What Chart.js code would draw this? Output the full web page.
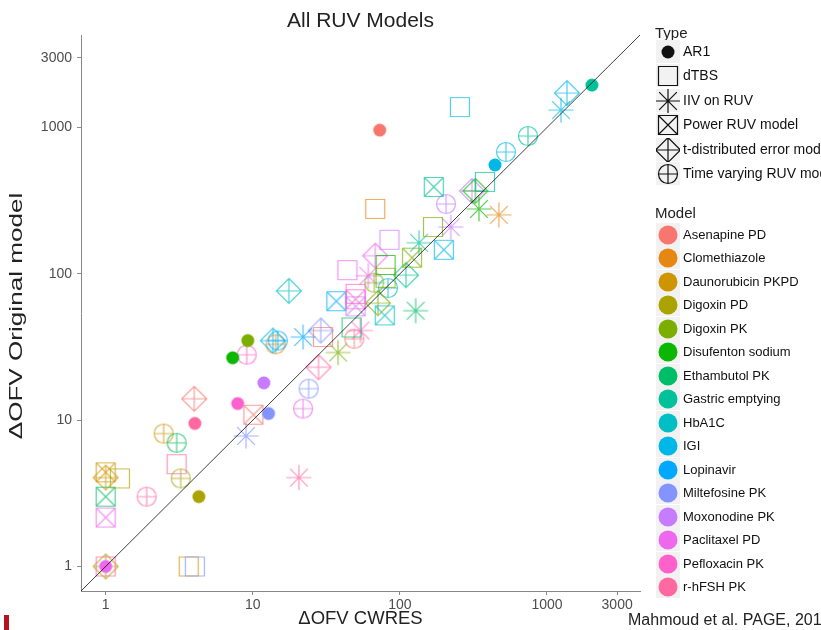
<!DOCTYPE html>
<html>
<head>
<meta charset="utf-8">
<script src="https://cdn.jsdelivr.net/npm/chart.js@4.4.1/dist/chart.umd.min.js"></script>
<style>
  html, body { margin:0; padding:0; background:#fff; overflow:hidden; }
  body { width:821px; height:630px; position:relative; font-family:"Liberation Sans", Arial, sans-serif; }
  #wrap { position:absolute; left:0; top:0; width:821px; height:630px; }
  #titulo { position:absolute; left:81px; width:559px; top:8px; text-align:center; font-size:21px; color:#222; }
  #tituloY { position:absolute; left:16px; top:316px; font-size:18px; color:#222; white-space:nowrap;
    transform: translate(-50%, -50%) rotate(-90deg) scale(1.45, 1.03); }
  .leg-title { position:absolute; left:655px; font-size:15px; color:#222; }
  .leg-item { position:absolute; left:656px; width:170px; height:24px; white-space:nowrap; }
  .leg-item canvas { position:absolute; left:0; top:0; }
  .leg-item span { position:absolute; left:27px; top:4px; font-size:13px; color:#111; }
  .tipo span { font-size:14px; top:3px; }
  #fonte { position:absolute; left:628px; top:611px; font-size:16px; white-space:nowrap; color:#222; }
  #marca { position:absolute; left:4px; top:615px; width:5px; height:15px; background:#b3121f; }
</style>
</head>
<body>
<div id="wrap"><canvas id="grafico" width="821" height="630"></canvas></div>
<div id="titulo">All RUV Models</div>
<div id="tituloY">ΔOFV Original model</div>
<div id="legenda"></div>
<div id="fonte">Mahmoud et al. PAGE, 2017</div>
<div id="marca"></div>
<script>
// nomes e cores (paleta padrão do ggplot para 16 níveis)
const modelos = ["Asenapine PD", "Clomethiazole", "Daunorubicin PKPD", "Digoxin PD", "Digoxin PK",
  "Disufenton sodium", "Ethambutol PK", "Gastric emptying", "HbA1C", "IGI", "Lopinavir",
  "Miltefosine PK", "Moxonodine PK", "Paclitaxel PD", "Pefloxacin PK", "r-hFSH PK"];
const coresModelo = ["#F8766D", "#E68613", "#CD9600", "#ABA300", "#7CAE00", "#0CB702", "#00BE67",
  "#00C19A", "#00BFC4", "#00B8E7", "#00A9FF", "#8494FF", "#C77CFF", "#ED68ED", "#FF61CC", "#FF68A1"];
const tipos = ["AR1", "dTBS", "IIV on RUV", "Power RUV model", "t-distributed error model", "Time varying RUV model"];
const marcas = [1, 10, 100, 1000, 3000];
const eixoMin = 0.68, eixoMax = 4290;

// AR1
const ar1Cwres = [73, 2020, 443, 9.25, 7.3, 11.9, 7.9, 12.8, 4.04, 4.3, 1];
const ar1Original = [960, 1950, 555, 35, 26.7, 18, 13, 11.1, 9.5, 3.0, 1];
const ar1Modelo = ["Asenapine PD", "Gastric emptying", "IGI", "Digoxin PK", "Disufenton sodium", "Moxonodine PK",
  "Pefloxacin PK", "Miltefosine PK", "r-hFSH PK", "Digoxin PD", "Paclitaxel PD"];

// dTBS
const dtbsCwres = [256, 379, 68, 168, 85, 80, 44, 80, 47, 30, 50, 3.04, 1.25, 1, 3.67, 4.04];
const dtbsOriginal = [1380, 425, 278, 209, 171, 115, 106, 94, 43, 37, 73, 5.0, 4.0, 1, 1, 1];
const dtbsModelo = ["IGI", "Gastric emptying", "Clomethiazole", "Digoxin PK", "Moxonodine PK", "Disufenton sodium",
  "Paclitaxel PD", "Digoxin PK", "Ethambutol PK", "Asenapine PD", "Pefloxacin PK", "r-hFSH PK", "Digoxin PD",
  "r-hFSH PK", "Daunorubicin PKPD", "Miltefosine PK"];

// IIV on RUV
const iivCwres = [1245, 345, 471, 222, 135, 128, 54, 22, 38, 9.0, 20.6, 61];
const iivOriginal = [1316, 278, 253, 209, 163, 56, 41, 37, 29, 7.8, 4.05, 97];
const iivModelo = ["IGI", "Disufenton sodium", "Clomethiazole", "Moxonodine PK", "Gastric emptying", "Ethambutol PK",
  "Pefloxacin PK", "Lopinavir", "Digoxin PK", "Miltefosine PK", "r-hFSH PK", "Paclitaxel PD"];

// Power RUV model
const powerCwres = [170, 199, 121, 37, 50, 50, 79, 10.1, 1, 1, 1];
const powerOriginal = [393, 146, 129, 65, 67, 60, 52, 10.9, 4.4, 3.0, 2.16];
const powerModelo = ["Gastric emptying", "IGI", "Digoxin PK", "Lopinavir", "Pefloxacin PK", "Moxonodine PK",
  "HbA1C", "Asenapine PD", "Daunorubicin PKPD", "Ethambutol PK", "Paclitaxel PD"];

// t-distributed error model
const tdistCwres = [1368, 309, 326, 68, 110, 17.6, 71, 29, 28, 13.7, 4.0, 1, 1];
const tdistOriginal = [1720, 369, 369, 133, 98, 76.5, 63, 41, 23, 35, 14, 4.05, 1];
const tdistModelo = ["IGI", "Moxonodine PK", "Disufenton sodium", "Paclitaxel PD", "Gastric emptying", "HbA1C",
  "Digoxin PK", "Miltefosine PK", "r-hFSH PK", "IGI", "Asenapine PD", "Daunorubicin PKPD", "Digoxin PD"];

// Time varying RUV model
const tvarCwres = [743, 526, 206, 67, 83, 49, 24, 22, 9.1, 14.3, 14.8, 2.48, 3.04, 3.24, 1.9];
const tvarOriginal = [875, 680, 300, 87, 80, 36, 16.4, 12, 28, 33, 35, 8.1, 7.0, 4.0, 3.0];
const tvarModelo = ["Gastric emptying", "IGI", "Moxonodine PK", "Digoxin PK", "HbA1C", "Asenapine PD",
  "Miltefosine PK", "Paclitaxel PD", "Pefloxacin PK", "Clomethiazole", "Lopinavir", "Daunorubicin PKPD",
  "Ethambutol PK", "Digoxin PD", "r-hFSH PK"];

// linha de identidade
const diagonal = [eixoMin, eixoMax];

function corDe(modelo) {
  return coresModelo[modelos.indexOf(modelo)];
}

// desenha o símbolo de cada tipo num canvas pequeno
function icone(tipo, cor, alfa) {
  const c = document.createElement('canvas');
  c.width = 32; c.height = 32;
  const g = c.getContext('2d');
  const m = 16;
  g.globalAlpha = alfa;
  g.strokeStyle = cor;
  g.fillStyle = cor;
  g.lineWidth = 1.2;
  g.beginPath();
  if (tipo === 0) {
    g.globalAlpha = 1;
    g.arc(m, m, 6.5, 0, Math.PI * 2);
    g.fill();
    return c;
  }
  if (tipo === 1 || tipo === 3) {
    g.rect(m - 9.5, m - 9.5, 19, 19);
    if (tipo === 3) {
      g.moveTo(m - 9.5, m - 9.5); g.lineTo(m + 9.5, m + 9.5);
      g.moveTo(m + 9.5, m - 9.5); g.lineTo(m - 9.5, m + 9.5);
    }
  } else if (tipo === 2) {
    for (let a = 0; a < 4; a++) {
      const ang = a * Math.PI / 4;
      g.moveTo(m - 12.5 * Math.cos(ang), m - 12.5 * Math.sin(ang));
      g.lineTo(m + 12.5 * Math.cos(ang), m + 12.5 * Math.sin(ang));
    }
  } else if (tipo === 4) {
    g.moveTo(m, m - 12.5); g.lineTo(m + 12.5, m); g.lineTo(m, m + 12.5); g.lineTo(m - 12.5, m); g.closePath();
    g.moveTo(m, m - 12.5); g.lineTo(m, m + 12.5);
    g.moveTo(m - 12.5, m); g.lineTo(m + 12.5, m);
  } else if (tipo === 5) {
    g.arc(m, m, 9.5, 0, Math.PI * 2);
    g.moveTo(m, m - 9.5); g.lineTo(m, m + 9.5);
    g.moveTo(m - 9.5, m); g.lineTo(m + 9.5, m);
  }
  g.stroke();
  return c;
}

function conjunto(tipo, xs, ys, ms) {
  return {
    label: tipos[tipo],
    data: xs.map((x, i) => ({ x: x, y: ys[i] })),
    pointStyle: ms.map(mo => icone(tipo, corDe(mo), 0.7)),
    pointRadius: 3,
    showLine: false
  };
}

const ctx = document.getElementById('grafico').getContext('2d');
new Chart(ctx, {
  type: 'scatter',
  data: {
    datasets: [
      {
        label: 'identidade',
        data: diagonal.map(v => ({ x: v, y: v })),
        showLine: true,
        borderColor: 'rgba(0,0,0,0.75)',
        borderWidth: 1,
        pointRadius: 0
      },
      conjunto(0, ar1Cwres, ar1Original, ar1Modelo),
      conjunto(1, dtbsCwres, dtbsOriginal, dtbsModelo),
      conjunto(2, iivCwres, iivOriginal, iivModelo),
      conjunto(3, powerCwres, powerOriginal, powerModelo),
      conjunto(4, tdistCwres, tdistOriginal, tdistModelo),
      conjunto(5, tvarCwres, tvarOriginal, tvarModelo)
    ]
  },
  options: {
    responsive: false,
    animation: false,
    events: [],
    layout: { padding: { left: 0, top: 35, right: 181, bottom: 0 } },
    plugins: { legend: { display: false }, tooltip: { enabled: false } },
    scales: {
      x: {
        type: 'logarithmic',
        min: eixoMin, max: eixoMax,
        afterBuildTicks: s => { s.ticks = marcas.map(v => ({ value: v })); },
        afterFit: s => { s.height = 39; },
        ticks: { callback: v => String(v), color: '#4d4d4d', font: { size: 14, family: 'Liberation Sans' }, padding: 2, maxRotation: 0, autoSkip: false },
        grid: { display: true, drawOnChartArea: false, drawTicks: true, tickLength: 4, color: '#888' },
        border: { display: true, color: '#888', width: 1 },
        title: { display: true, text: 'ΔOFV CWRES', color: '#222', font: { size: 18.5, family: 'Liberation Sans' }, padding: { top: 0, bottom: 0 } }
      },
      y: {
        type: 'logarithmic',
        min: eixoMin, max: eixoMax,
        afterBuildTicks: s => { s.ticks = marcas.map(v => ({ value: v })); },
        afterFit: s => { s.width = 81; },
        ticks: { callback: v => String(v), color: '#4d4d4d', font: { size: 14, family: 'Liberation Sans' }, padding: 5, autoSkip: false },
        grid: { display: true, drawOnChartArea: false, drawTicks: true, tickLength: 4, color: '#888' },
        border: { display: true, color: '#888', width: 1 },
        title: { display: false }
      }
    }
  }
});

// legendas (Type e Model)
const leg = document.getElementById('legenda');
function titulo(txt, top) {
  const d = document.createElement('div');
  d.className = 'leg-title';
  d.style.top = top + 'px';
  d.textContent = txt;
  leg.appendChild(d);
}
function item(txt, centro, desenho, classe) {
  const d = document.createElement('div');
  d.className = 'leg-item ' + classe;
  d.style.top = (centro - 12) + 'px';
  const c = document.createElement('canvas');
  c.width = 24; c.height = 24;
  const g = c.getContext('2d');
  g.fillStyle = '#f2f2f2';
  g.fillRect(0, 0, 24, 23);
  g.drawImage(desenho, -4, -4);
  d.appendChild(c);
  const s = document.createElement('span');
  s.textContent = txt;
  d.appendChild(s);
  leg.appendChild(d);
}
titulo('Type', 24);
tipos.forEach((t, i) => item(t, 52 + i * 24.4, icone(i, '#111', 1), 'tipo'));
titulo('Model', 204);
modelos.forEach((mo, i) => {
  const c = document.createElement('canvas');
  c.width = 32; c.height = 32;
  const g = c.getContext('2d');
  g.fillStyle = coresModelo[i];
  g.beginPath(); g.arc(16, 16, 9.5, 0, Math.PI * 2); g.fill();
  item(mo, 235 + i * 23.47, c, 'modelo');
});
</script>
</body>
</html>
